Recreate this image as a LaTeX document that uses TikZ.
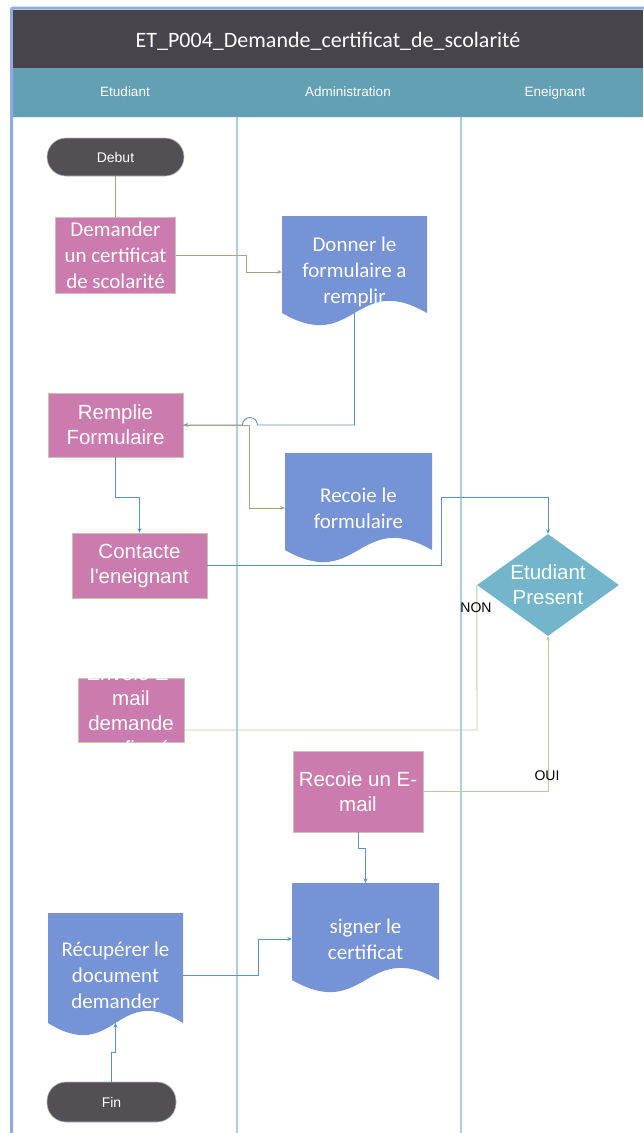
\documentclass[tikz,border=0pt]{standalone}
\usepackage{fontspec}
\setmainfont{Liberation Sans}
\newfontfamily\calfont{Carlito}
\usetikzlibrary{shapes.geometric,arrows.meta}

\definecolor{frameblue}{HTML}{8EAADF}
\definecolor{titlegray}{HTML}{48444C}
\definecolor{laneteal}{HTML}{63A0B3}
\definecolor{lanerule}{HTML}{A8CEE0}
\definecolor{procpink}{HTML}{CC7BAF}
\definecolor{procedge}{HTML}{C9C3B3}
\definecolor{docblue}{HTML}{7593D5}
\definecolor{decteal}{HTML}{73B6CB}
\definecolor{termgray}{HTML}{524F55}
\definecolor{linkblue}{HTML}{5A93C3}
\definecolor{linkolive}{HTML}{A9A27C}
\definecolor{linkgreen}{HTML}{B8CCA0}

% document symbol: flat top, wavy bottom (left, top, right, bottom line)
\newcommand\docshape[4]{%
  \fill[docblue] (#1,#2) -- (#3,#2) -- (#3,#4)
    .. controls ({(#1+#3)/2},{#4-42}) and ({(#1+#3)/2},{#4+42}) .. (#1,#4) -- cycle;}

\begin{document}
\begin{tikzpicture}[x=1pt,y=-1pt,
  proc/.style={rectangle, fill=procpink, draw=procedge, line width=0.8pt,
    inner sep=0pt, text=white, align=center,
    font=\fontsize{20.5}{25}\selectfont},
  proctext/.style={inner sep=0pt, text=white, align=center,
    font=\fontsize{20.5}{25}\selectfont},
  term/.style={rectangle, rounded corners=19pt, fill=termgray, draw=gray!55,
    line width=0.6pt, text=white, font=\fontsize{14}{16}\selectfont},
  doctext/.style={inner sep=0pt, text=white, align=center,
    font=\calfont\fontsize{21}{26}\selectfont},
  lanelabel/.style={text=white, inner sep=0pt, text height=10pt, text depth=3pt,
    font=\fontsize{13.5}{16}\selectfont},
  choice/.style={text=black, inner sep=0pt, text height=10pt, text depth=0pt,
    font=\fontsize{14}{16}\selectfont},
  link/.style={line width=0.9pt},
  tip/.style={-{Stealth[length=4.5pt,width=4pt]}}]

\useasboundingbox (0,0) rectangle (643,1133);

% pool frame, title bar and lane header
\draw[frameblue, line width=3pt, rounded corners=2pt] (11.5,1140) -- (11.5,8) -- (650,8);
\fill[titlegray] (13,10) rectangle (643,68);
\fill[laneteal] (13,68) rectangle (643,117);
\draw[white!85!laneteal, line width=0.8pt] (13,117) -- (643,117);
\node[text=white, font=\calfont\fontsize{22}{26}\selectfont] (title) at (328,41) {ET\_P004\_Demande\_certificat\_de\_scolarité};
\node[lanelabel] (laneA) at (125,93) {Etudiant};
\node[lanelabel] (laneB) at (348,93) {Administration};
\node[lanelabel] (laneC) at (555,93) {Eneignant};

% lane separators
\draw[lanerule, line width=1.3pt] (237,117) -- (237,1133);
\draw[lanerule, line width=1.3pt] (461,117) -- (461,1133);

% terminators
\node[term, minimum width=137pt, minimum height=38pt] (debut) at (115.5,157) {Debut};
\node[term, minimum width=129pt, minimum height=40pt] (fin) at (111.5,1102) {Fin};

% process boxes
\node[proc, minimum width=120pt, minimum height=76pt, font=\calfont\fontsize{21}{26}\selectfont]
  (demander) at (115.5,255) {Demander\\un certificat\\de scolarité};
\node[proc, minimum width=135pt, minimum height=64pt] (remplie) at (115.5,425) {Remplie\\Formulaire};
\node[proc, minimum width=135pt, minimum height=65pt] (contacte) at (139.5,565.5) {Contacte\\l\textquotesingle eneignant};
\node[proc, minimum width=106pt, minimum height=64pt] (envoie) at (131,710) {};
\node[proc, minimum width=130pt, minimum height=81pt] (recoiemail) at (358,791.5) {Recoie un E-\\mail};

% decision
\node[diamond, fill=decteal, minimum width=142pt, minimum height=102pt, inner sep=0pt]
  (present) at (548,585) {};
\node[proctext] (presenttext) at (548,584.5) {Etudiant\\Present};

% documents
\docshape{282}{216}{427}{313}
\docshape{285}{453}{432}{550}
\docshape{292}{883}{439}{980}
\docshape{48}{913}{183}{1023}
\coordinate (donner-b) at (354.5,313);
\coordinate (recup-b) at (115.5,1023);
\node[doctext, minimum width=145pt, minimum height=112pt] (donner) at (354.5,272) {Donner le\\formulaire a\\remplir};
\node[doctext, minimum width=147pt, minimum height=110pt] (recoiefo) at (358.5,508) {Recoie le\\formulaire};
\node[doctext, minimum width=147pt, minimum height=112pt] (signer) at (365.5,939) {signer le\\certificat};
\node[doctext, minimum width=135pt, minimum height=124pt] (recup) at (115.5,975) {Récupérer le\\document\\demander};

% connectors
\draw[link, linkolive] (debut.south) -- (demander.north);
\draw[link, linkolive, tip] (demander.east) -- ++(71,0) |- (donner.west);
\draw[link, linkblue, tip] (donner-b) |- ([xshift=74pt]remplie.east)
  arc[start angle=0, end angle=-180, radius=7.5] -- (remplie.east);
\draw[link, linkolive, tip] (remplie.east) -- ++(66,0) |- (recoiefo.west);
\draw[link, linkblue, tip] (remplie.south) -- ++(0,40) -| (contacte.north);
\coordinate (upturn) at (441,497);
\draw[link, linkblue, tip] (contacte.east) -| (upturn) -| (present.north);
\coordinate (nonturn) at (477,730);
\draw[link, linkgreen] (present.west) -- (nonturn) -- (nonturn -| envoie.east);
\draw[link, linkgreen, tip] (recoiemail.east) -| (present.south);
\draw[link, linkblue, tip] (recoiemail.south) -- ++(0,16) -| (signer.north);
\draw[link, linkblue, tip] (recup.east) -- ++(75,0) |- (signer.west);
\draw[link, linkblue, tip] (fin.north) -- ++(0,-29) -| (recup-b);

% branch labels
\node[choice] (non) at (476,607) {NON};
\node[choice] (oui) at (547,775) {OUI};

% overflowing label of the e-mail box
\node[proctext] (envoietext) at (131,710.5) {Envoie E-\\mail\\demande\\confirmé};
\end{tikzpicture}
\end{document}
